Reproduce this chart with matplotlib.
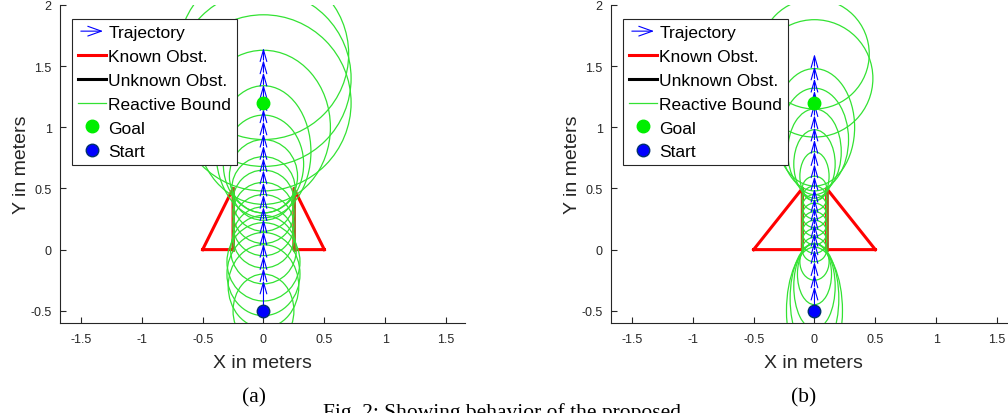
import matplotlib
matplotlib.use('Agg')
import matplotlib.pyplot as plt
from matplotlib.patches import Ellipse, FancyArrowPatch
from matplotlib.lines import Line2D
from matplotlib.legend_handler import HandlerBase

plt.rcParams['font.family'] = ['Liberation Sans', 'DejaVu Sans']

# trajectory points (x = 0 for every point)
traj_a = [-0.5, -0.25, -0.15, -0.05, 0.05, 0.15, 0.25, 0.35, 0.45, 0.55, 0.65,
          0.75, 0.85, 0.95, 1.05, 1.15, 1.25, 1.35, 1.45, 1.55, 1.65]
traj_b = [-0.5, -0.3, -0.2, -0.1, 0.0, 0.07, 0.14, 0.21, 0.28, 0.35, 0.42, 0.5,
          0.6, 0.7, 0.8, 0.9, 1.0, 1.1, 1.2, 1.3, 1.4, 1.5, 1.6]

# reactive bounds: centre y, half width, half height
bound_y_a = [-0.5, -0.3, -0.2, -0.1, 0.0, 0.1, 0.2, 0.3, 0.4, 0.5, 0.6, 0.7,
             0.8, 1.0, 1.2, 1.4, 1.6]
bound_w_a = [0.25, 0.29, 0.3, 0.3, 0.27, 0.25, 0.25, 0.25, 0.25, 0.26, 0.28,
             0.33, 0.39, 0.55, 0.72, 0.72, 0.7]
bound_h_a = [0.3, 0.34, 0.34, 0.32, 0.28, 0.25, 0.25, 0.25, 0.25, 0.26, 0.3,
             0.4, 0.54, 0.63, 0.72, 0.72, 0.7]

bound_y_b = [-0.5, -0.4, -0.3, -0.2, -0.1, 0.0, 0.07, 0.14, 0.21, 0.28, 0.35,
             0.42, 0.5, 0.6, 0.7, 0.8, 0.9, 1.0, 1.4, 1.6]
bound_w_b = [0.23, 0.2, 0.17, 0.14, 0.12, 0.1, 0.1, 0.1, 0.1, 0.1, 0.1,
             0.1, 0.1, 0.12, 0.17, 0.22, 0.28, 0.33, 0.48, 0.45]
bound_h_b = [0.52, 0.45, 0.35, 0.25, 0.15, 0.1, 0.1, 0.1, 0.1, 0.1, 0.1,
             0.1, 0.1, 0.2, 0.28, 0.35, 0.42, 0.48, 0.48, 0.45]

# known obstacles (two triangles), gap half width differs per case
obs_a_left = ([-0.5, -0.25, -0.25, -0.5], [0, 0, 0.5, 0])
obs_a_right = ([0.5, 0.25, 0.25, 0.5], [0, 0, 0.5, 0])
obs_b_left = ([-0.5, -0.1, -0.1, -0.5], [0, 0, 0.5, 0])
obs_b_right = ([0.5, 0.1, 0.1, 0.5], [0, 0, 0.5, 0])

goal = (0, 1.2)
start = (0, -0.5)

x_ticks = [-1.5, -1, -0.5, 0, 0.5, 1, 1.5]
y_ticks = [-0.5, 0, 0.5, 1, 1.5, 2]
tick_labels_x = ['-1.5', '-1', '-0.5', '0', '0.5', '1', '1.5']
tick_labels_y = ['-0.5', '0', '0.5', '1', '1.5', '2']

GREEN = '#33e233'
DARK = '#262626'


class ArrowHandler(HandlerBase):
    def create_artists(self, legend, orig, xd, yd, w, h, fontsize, trans):
        a = FancyArrowPatch((-xd, h / 2 - yd), (-xd + w, h / 2 - yd),
                            arrowstyle='->,head_length=0.7,head_width=0.25',
                            mutation_scale=14, color='blue', lw=0.8,
                            transform=trans)
        return [a]


def draw_panel(ax, traj, by, bw, bh, left, right):
    for xs, ys in (left, right):
        ax.plot(xs, ys, color='red', lw=2.2, zorder=2)
        ax.plot([xs[1], xs[2]], [ys[1], ys[2]], color='#9a6a22', lw=2.0, zorder=2)
    for yc, w, h in zip(by, bw, bh):
        ax.add_patch(Ellipse((0, yc), 2 * w, 2 * h, fill=False,
                             edgecolor=GREEN, lw=0.9, zorder=3))
    for y0, y1 in zip(traj[:-1], traj[1:]):
        ax.annotate('', xy=(0, y1), xytext=(0, y0),
                    arrowprops=dict(arrowstyle='->,head_length=0.7,head_width=0.2',
                                    color='blue', lw=0.8, shrinkA=0, shrinkB=0,
                                    mutation_scale=12), zorder=4)
    ax.plot(*goal, 'o', color='#00ee00', ms=9, zorder=5)
    ax.plot(*start, 'o', color='blue', mec='#003070', ms=9, zorder=5)

    ax.set_xlim(-1.672, 1.656)
    ax.set_ylim(-0.6, 2)
    ax.set_xticks(x_ticks)
    ax.set_xticklabels(tick_labels_x)
    ax.set_yticks(y_ticks)
    ax.set_yticklabels(tick_labels_y)
    ax.tick_params(direction='in', length=4, labelsize=9, colors=DARK)
    ax.tick_params(axis='x', pad=7)
    ax.tick_params(axis='y', pad=6)
    for s in ('top', 'right'):
        ax.spines[s].set_visible(False)
    for s in ('left', 'bottom'):
        ax.spines[s].set_color(DARK)
        ax.spines[s].set_linewidth(0.8)
    ax.set_xlabel('X in meters', fontsize=14, color=DARK, labelpad=7)
    ax.set_ylabel('Y in meters', fontsize=14, color=DARK, labelpad=0)

    handles = [
        Line2D([], [], color='blue'),
        Line2D([], [], color='red', lw=2.2),
        Line2D([], [], color='black', lw=2.2),
        Line2D([], [], color=GREEN, lw=0.9),
        Line2D([], [], marker='o', ls='', color='#00ee00', ms=9),
        Line2D([], [], marker='o', ls='', color='blue', mec='#003070', ms=9),
    ]
    labels = ['Trajectory', 'Known Obst.', 'Unknown Obst.', 'Reactive Bound',
              'Goal', 'Start']
    leg = ax.legend(handles, labels, loc='upper left',
                    bbox_to_anchor=(0.0296, 0.956), borderaxespad=0,
                    fontsize=12.5, handlelength=1.6, handletextpad=0.15,
                    labelspacing=0.5, borderpad=0.35, fancybox=False,
                    framealpha=1, edgecolor=DARK,
                    handler_map={handles[0]: ArrowHandler()})
    leg.get_frame().set_linewidth(0.8)
    leg.set_zorder(10)


fig = plt.figure(figsize=(10.08, 4.14), dpi=100)
ax_a = fig.add_axes([60 / 1008, 1 - 324 / 414, 405 / 1008, 318 / 414])
ax_b = fig.add_axes([611 / 1008, 1 - 324 / 414, 405 / 1008, 318 / 414])

draw_panel(ax_a, traj_a, bound_y_a, bound_w_a, bound_h_a, obs_a_left, obs_a_right)
draw_panel(ax_b, traj_b, bound_y_b, bound_w_b, bound_h_b, obs_b_left, obs_b_right)

fig.text(254 / 1008, 1 - 398 / 414, '(a)', family='Liberation Serif',
         fontsize=15.5, ha='center', va='center')
fig.text(804 / 1008, 1 - 398 / 414, '(b)', family='Liberation Serif',
         fontsize=15.5, ha='center', va='center')
fig.text(323 / 1008, 1 - 403 / 414, 'Fig. 2: Showing behavior of the proposed',
         family='Liberation Serif', fontsize=15.5, ha='left', va='top')

fig.savefig('out.png', dpi=100)
